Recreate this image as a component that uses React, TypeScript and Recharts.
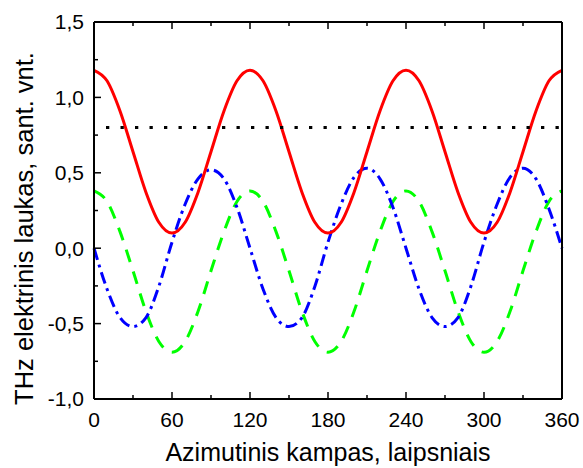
import { Label, Line, LineChart, XAxis, YAxis } from 'recharts';

const angles = [
  0, 10, 20, 30, 40, 50, 60, 70, 80, 90, 100, 110, 120, 130, 140, 150, 160, 170, 180,
  190, 200, 210, 220, 230, 240, 250, 260, 270, 280, 290, 300, 310, 320, 330, 340, 350, 360,
];

const redField = [
  1.18, 1.11, 0.91, 0.64, 0.37, 0.17, 0.1, 0.17, 0.37, 0.64, 0.91, 1.11,
  1.18, 1.11, 0.91, 0.64, 0.37, 0.17, 0.1, 0.17, 0.37, 0.64, 0.91, 1.11,
  1.18, 1.11, 0.91, 0.64, 0.37, 0.17, 0.1, 0.17, 0.37, 0.64, 0.91, 1.11,
  1.18,
];

const greenField = [
  0.38, 0.31, 0.11, -0.15, -0.42, -0.62, -0.69, -0.62, -0.42, -0.15, 0.11, 0.31,
  0.38, 0.31, 0.11, -0.15, -0.42, -0.62, -0.69, -0.62, -0.42, -0.15, 0.11, 0.31,
  0.38, 0.31, 0.11, -0.15, -0.42, -0.62, -0.69, -0.62, -0.42, -0.15, 0.11, 0.31,
  0.38,
];

const blueField = [
  0.0, -0.27, -0.46, -0.52, -0.46, -0.25, 0.04, 0.29, 0.46, 0.52, 0.46, 0.27,
  0.0, -0.27, -0.46, -0.52, -0.46, -0.25, 0.04, 0.29, 0.47, 0.53, 0.46, 0.27,
  0.0, -0.27, -0.46, -0.52, -0.46, -0.25, 0.04, 0.29, 0.47, 0.53, 0.46, 0.26,
  0.0,
];

const blackLevel = 0.8;

const xTicks = [0, 30, 60, 90, 120, 150, 180, 210, 240, 270, 300, 330, 360];
const yTicks = [-1, -0.75, -0.5, -0.25, 0, 0.25, 0.5, 0.75, 1, 1.25, 1.5];

const data = angles.map((angle, i) => ({
  angle,
  red: redField[i],
  green: greenField[i],
  blue: blueField[i],
  black: blackLevel,
}));

const TICK_FONT = 21;

function BottomTick({ x, y, payload }: any) {
  const major = payload.value % 60 === 0;
  return (
    <g>
      <line x1={x} x2={x} y1={y} y2={y - (major ? 7 : 4)} stroke="#000" strokeWidth={1.5} />
      {major && (
        <text x={x} y={y + 13} dy="0.71em" textAnchor="middle" fontSize={TICK_FONT} fill="#000">
          {payload.value}
        </text>
      )}
    </g>
  );
}

function TopTick({ x, y, payload }: any) {
  const major = payload.value % 60 === 0;
  return <line x1={x} x2={x} y1={y} y2={y + (major ? 7 : 4)} stroke="#000" strokeWidth={1.5} />;
}

function LeftTick({ x, y, payload }: any) {
  const major = Math.abs((payload.value * 2) % 1) < 1e-6;
  return (
    <g>
      <line x1={x} x2={x + (major ? 7 : 4)} y1={y} y2={y} stroke="#000" strokeWidth={1.5} />
      {major && (
        <text x={x - 10} y={y} dy="0.355em" textAnchor="end" fontSize={TICK_FONT} fill="#000">
          {payload.value.toFixed(1).replace('.', ',')}
        </text>
      )}
    </g>
  );
}

function RightTick({ x, y, payload }: any) {
  const major = Math.abs((payload.value * 2) % 1) < 1e-6;
  return <line x1={x} x2={x - (major ? 7 : 4)} y1={y} y2={y} stroke="#000" strokeWidth={1.5} />;
}

// rotated y title, sits a bit below the plot's middle like the original
function YTitle({ viewBox }: any) {
  const cx = viewBox.x + 24;
  const cy = viewBox.y + viewBox.height / 2 + 18;
  return (
    <text
      x={cx}
      y={cy}
      dy="0.355em"
      transform={`rotate(-90, ${cx}, ${cy})`}
      textAnchor="middle"
      fontSize={25.5}
      fill="#000"
    >
      THz elektrinis laukas, sant. vnt.
    </text>
  );
}

export default function App() {
  const axisLine = { stroke: '#000', strokeWidth: 2 };
  return (
    <div
      style={{
        position: 'absolute',
        left: 0,
        top: 0,
        fontFamily: '"Liberation Sans", Arial, sans-serif',
        background: '#fff',
      }}
    >
      <LineChart width={583} height={468} data={data} margin={{ top: 0, right: 0, bottom: 0, left: 0 }}>
        <XAxis
          dataKey="angle"
          type="number"
          domain={[0, 360]}
          ticks={xTicks}
          interval={0}
          height={69}
          tickSize={0}
          tickMargin={0}
          tickLine={false}
          axisLine={axisLine}
          tick={BottomTick}
        >
          <Label
            value="Azimutinis kampas, laipsniais"
            position="insideBottom"
            offset={7}
            fontSize={25}
            fill="#000"
          />
        </XAxis>
        <XAxis
          xAxisId="top"
          orientation="top"
          dataKey="angle"
          type="number"
          domain={[0, 360]}
          ticks={xTicks}
          interval={0}
          height={22}
          tickSize={0}
          tickMargin={0}
          tickLine={false}
          axisLine={axisLine}
          tick={TopTick}
        />
        <YAxis
          type="number"
          domain={[-1, 1.5]}
          ticks={yTicks}
          interval={0}
          width={94}
          tickSize={0}
          tickMargin={0}
          tickLine={false}
          axisLine={axisLine}
          tick={LeftTick}
        >
          <Label content={YTitle} />
        </YAxis>
        <YAxis
          yAxisId="right"
          orientation="right"
          type="number"
          domain={[-1, 1.5]}
          ticks={yTicks}
          interval={0}
          width={21}
          tickSize={0}
          tickMargin={0}
          tickLine={false}
          axisLine={axisLine}
          tick={RightTick}
        />

        <Line
          type="monotone"
          dataKey="green"
          stroke="#00ff00"
          strokeWidth={3}
          strokeDasharray="13 10"
          dot={false}
          isAnimationActive={false}
        />
        <Line
          type="monotone"
          dataKey="blue"
          stroke="#0000ff"
          strokeWidth={3}
          strokeDasharray="12 5 3 5"
          dot={false}
          isAnimationActive={false}
        />
        <Line
          type="monotone"
          dataKey="red"
          stroke="#ff0000"
          strokeWidth={3}
          dot={false}
          isAnimationActive={false}
        />
        <Line
          type="linear"
          dataKey="black"
          stroke="#000"
          strokeWidth={3}
          strokeDasharray="3.3 11.2"
          strokeDashoffset={2.5}
          dot={false}
          isAnimationActive={false}
        />
      </LineChart>
    </div>
  );
}
